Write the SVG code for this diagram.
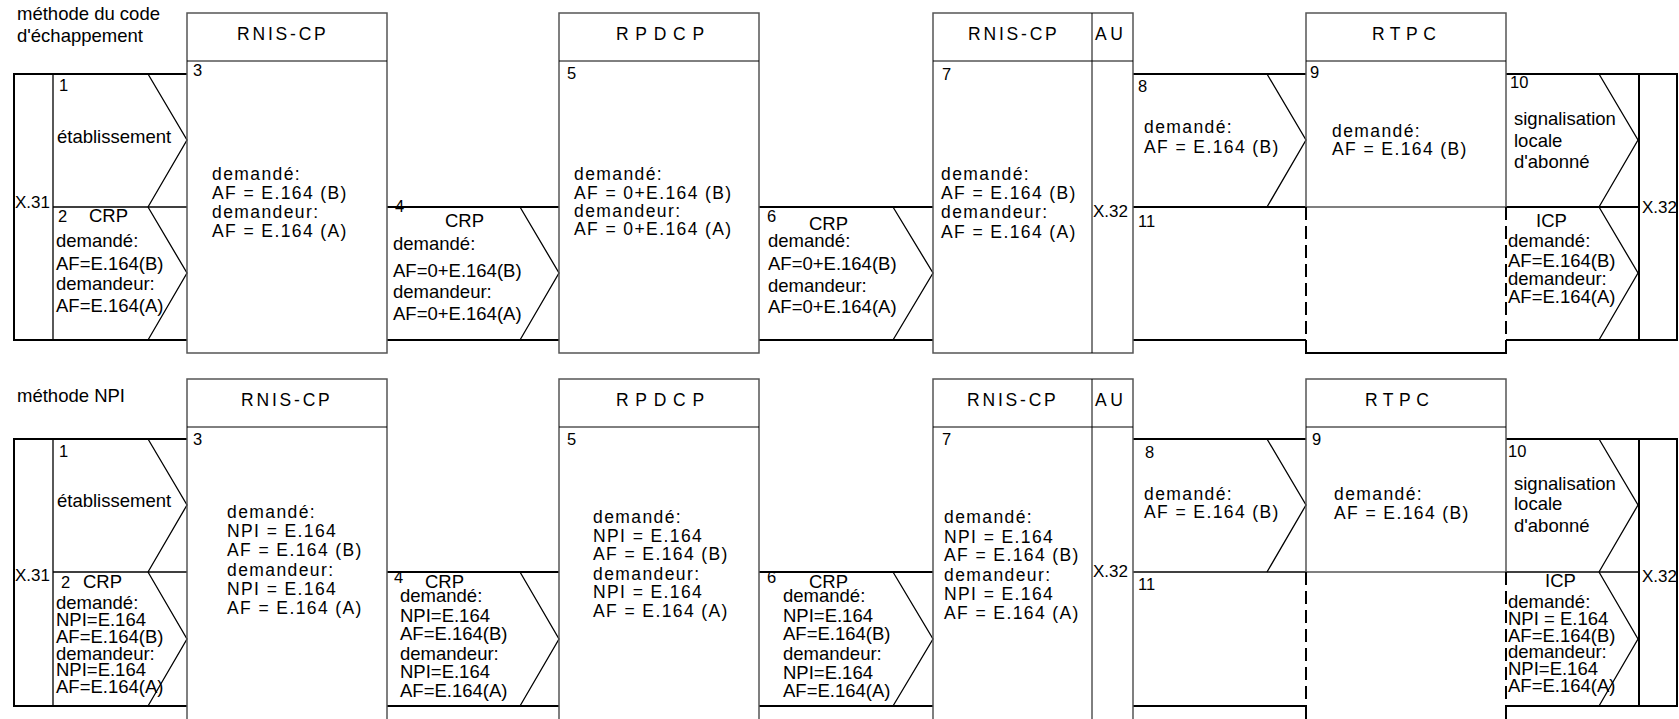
<svg xmlns="http://www.w3.org/2000/svg" width="1679" height="719" viewBox="0 0 1679 719">
<style>
.box{fill:none;stroke:#555;stroke-width:1.5}
.div{stroke:#000;stroke-width:1;fill:none}
.thick{stroke:#000;stroke-width:2;fill:none}
.thin{stroke:#000;stroke-width:1.3;fill:none}
.dash{stroke:#000;stroke-width:2;stroke-dasharray:13 6;fill:none}
text{font-family:"Liberation Sans",Arial,sans-serif;font-size:18.5px;fill:#000}
.n{font-size:16.5px}
.x{font-size:17px}
.b{font-size:17.5px;letter-spacing:1.4px}
.h{font-size:17.5px}
</style>
<rect width="1679" height="719" fill="#fff"/>

<!-- ===== Section 1 : méthode du code d'échappement ===== -->
<g id="section1">
  <g id="title1">
    <text x="17" y="20">méthode du code</text>
    <text x="17" y="42">d'échappement</text>
  </g>
  <g id="connectors1">
    <path class="thick" d="M187 74H14V340H187"/>
    <path class="thin" d="M53 74V340M53 207H187"/>
    <path class="thick" d="M387 207H559M387 340H559"/>
    <path class="thick" d="M759 207H933M759 340H933"/>
    <path class="thick" d="M1133 74H1306M1133 207H1306M1133 340H1306"/>
    <path class="thick" d="M1506 74H1677V340H1506M1506 207H1639M1639 74V340"/>
  </g>
  <g id="x31-1"><text class="x" x="15" y="208">X.31</text></g>
  <g id="msg1-1">
    <path class="thin" d="M148 74L187 140L148 207"/>
    <text class="n" x="59" y="91">1</text>
    <text x="57" y="143">établissement</text>
  </g>
  <g id="msg2-1">
    <path class="thin" d="M148 207L187 273L148 340"/>
    <text class="n" x="58" y="222">2</text>
    <text x="89" y="222">CRP</text>
    <text x="56" y="247">demandé:</text>
    <text x="56" y="270">AF=E.164(B)</text>
    <text x="56" y="290">demandeur:</text>
    <text x="56" y="312">AF=E.164(A)</text>
  </g>
  <g id="rnis-a1">
    <rect class="box" x="187" y="13" width="200" height="340"/>
    <line class="div" x1="187" y1="61" x2="387" y2="61"/>
    <text class="h" x="237" y="40" letter-spacing="2.8">RNIS-CP</text>
    <text class="n" x="193" y="76">3</text>
    <text class="b" x="212" y="180">demandé:</text>
    <text class="b" x="212" y="199">AF = E.164 (B)</text>
    <text class="b" x="212" y="218">demandeur:</text>
    <text class="b" x="212" y="237">AF = E.164 (A)</text>
  </g>
  <g id="msg4-1">
    <path class="thin" d="M520 207L559 273L520 340"/>
    <text class="n" x="395" y="212">4</text>
    <text x="445" y="227">CRP</text>
    <text x="393" y="250">demandé:</text>
    <text x="393" y="277">AF=0+E.164(B)</text>
    <text x="393" y="298">demandeur:</text>
    <text x="393" y="320">AF=0+E.164(A)</text>
  </g>
  <g id="rpdcp1">
    <rect class="box" x="559" y="13" width="200" height="340"/>
    <line class="div" x1="559" y1="61" x2="759" y2="61"/>
    <text class="h" x="616" y="40" letter-spacing="6.7">RPDCP</text>
    <text class="n" x="567" y="79">5</text>
    <text class="b" x="574" y="180">demandé:</text>
    <text class="b" x="574" y="199">AF = 0+E.164 (B)</text>
    <text class="b" x="574" y="217">demandeur:</text>
    <text class="b" x="574" y="235">AF = 0+E.164 (A)</text>
  </g>
  <g id="msg6-1">
    <path class="thin" d="M893 207L933 273L893 340"/>
    <text class="n" x="767" y="222">6</text>
    <text x="809" y="230">CRP</text>
    <text x="768" y="247">demandé:</text>
    <text x="768" y="270">AF=0+E.164(B)</text>
    <text x="768" y="292">demandeur:</text>
    <text x="768" y="313">AF=0+E.164(A)</text>
  </g>
  <g id="rnis-b1">
    <rect class="box" x="933" y="13" width="200" height="340"/>
    <line class="div" x1="933" y1="61" x2="1133" y2="61"/>
    <line class="div" x1="1092" y1="13" x2="1092" y2="353"/>
    <text class="h" x="968" y="40" letter-spacing="2.8">RNIS-CP</text>
    <text class="h" x="1095" y="40" letter-spacing="3.5">AU</text>
    <text class="n" x="942" y="80">7</text>
    <text class="b" x="941" y="180">demandé:</text>
    <text class="b" x="941" y="199">AF = E.164 (B)</text>
    <text class="b" x="941" y="218">demandeur:</text>
    <text class="b" x="941" y="238">AF = E.164 (A)</text>
    <text class="x" x="1093" y="217">X.32</text>
  </g>
  <g id="msg8-1">
    <path class="thin" d="M1267 74L1306 140L1267 207"/>
    <text class="n" x="1138" y="92">8</text>
    <text class="b" x="1144" y="133">demandé:</text>
    <text class="b" x="1144" y="153">AF = E.164 (B)</text>
  </g>
  <g id="msg11-1"><text class="n" x="1138" y="227">11</text></g>
  <g id="rtpc1">
    <rect class="box" x="1306" y="13" width="200" height="194"/>
    <line class="div" x1="1306" y1="61" x2="1506" y2="61"/>
    <path class="dash" d="M1306 207V340M1506 207V340"/>
    <path class="thick" d="M1306 340V353H1506V340"/>
    <text class="h" x="1372" y="40" letter-spacing="5.5">RTPC</text>
    <text class="n" x="1310" y="78">9</text>
    <text class="b" x="1332" y="137">demandé:</text>
    <text class="b" x="1332" y="155">AF = E.164 (B)</text>
  </g>
  <g id="msg10-1">
    <path class="thin" d="M1599 74L1638 140L1599 207"/>
    <text class="n" x="1510" y="88">10</text>
    <text x="1514" y="125">signalisation</text>
    <text x="1514" y="147">locale</text>
    <text x="1514" y="168">d'abonné</text>
  </g>
  <g id="msgICP-1">
    <path class="thin" d="M1599 207L1638 273L1599 340"/>
    <text x="1536" y="227">ICP</text>
    <text x="1508" y="247">demandé:</text>
    <text x="1508" y="267">AF=E.164(B)</text>
    <text x="1508" y="285">demandeur:</text>
    <text x="1508" y="303">AF=E.164(A)</text>
  </g>
  <g id="x32r-1"><text class="x" x="1642" y="213">X.32</text></g>
</g>

<!-- ===== Section 2 : méthode NPI ===== -->
<g id="section2" transform="translate(0,365)">
  <g id="title2">
    <text x="17" y="37">méthode NPI</text>
  </g>
  <g id="connectors2">
    <path class="thick" d="M187 74H14V341H187"/>
    <path class="thin" d="M53 74V341M53 207H187"/>
    <path class="thick" d="M387 207H559M387 341H559"/>
    <path class="thick" d="M759 207H933M759 341H933"/>
    <path class="thick" d="M1133 74H1306M1133 341H1306"/>
    <path class="thin" d="M1133 207H1306"/>
    <path class="thick" d="M1506 74H1677V341H1506M1639 74V341"/>
    <path class="thin" d="M1506 207H1639"/>
  </g>
  <g id="x31-2"><text class="x" x="15" y="216">X.31</text></g>
  <g id="msg1-2">
    <path class="thin" d="M148 74L187 140L148 207"/>
    <text class="n" x="59" y="92">1</text>
    <text x="57" y="142">établissement</text>
  </g>
  <g id="msg2-2">
    <path class="thin" d="M148 207L187 274L148 341"/>
    <text class="n" x="61" y="223">2</text>
    <text x="83" y="223">CRP</text>
    <text x="56" y="244">demandé:</text>
    <text x="56" y="261">NPI=E.164</text>
    <text x="56" y="278">AF=E.164(B)</text>
    <text x="56" y="294.5">demandeur:</text>
    <text x="56" y="311">NPI=E.164</text>
    <text x="56" y="327.5">AF=E.164(A)</text>
  </g>
  <g id="rnis-a2">
    <rect class="box" x="187" y="14" width="200" height="345"/>
    <line class="div" x1="187" y1="62" x2="387" y2="62"/>
    <text class="h" x="241" y="40.5" letter-spacing="2.8">RNIS-CP</text>
    <text class="n" x="193" y="80">3</text>
    <text class="b" x="227" y="153">demandé:</text>
    <text class="b" x="227" y="172">NPI = E.164</text>
    <text class="b" x="227" y="191">AF = E.164 (B)</text>
    <text class="b" x="227" y="210.5">demandeur:</text>
    <text class="b" x="227" y="229.5">NPI = E.164</text>
    <text class="b" x="227" y="248.5">AF = E.164 (A)</text>
  </g>
  <g id="msg4-2">
    <path class="thin" d="M520 207L559 274L520 341"/>
    <text class="n" x="394" y="218">4</text>
    <text x="425" y="223">CRP</text>
    <text x="400" y="237">demandé:</text>
    <text x="400" y="257">NPI=E.164</text>
    <text x="400" y="275">AF=E.164(B)</text>
    <text x="400" y="295">demandeur:</text>
    <text x="400" y="313">NPI=E.164</text>
    <text x="400" y="332">AF=E.164(A)</text>
  </g>
  <g id="rpdcp2">
    <rect class="box" x="559" y="14" width="200" height="345"/>
    <line class="div" x1="559" y1="62" x2="759" y2="62"/>
    <text class="h" x="616" y="40.5" letter-spacing="6.7">RPDCP</text>
    <text class="n" x="567" y="80">5</text>
    <text class="b" x="593" y="158">demandé:</text>
    <text class="b" x="593" y="177">NPI = E.164</text>
    <text class="b" x="593" y="195">AF = E.164 (B)</text>
    <text class="b" x="593" y="215">demandeur:</text>
    <text class="b" x="593" y="233">NPI = E.164</text>
    <text class="b" x="593" y="252">AF = E.164 (A)</text>
  </g>
  <g id="msg6-2">
    <path class="thin" d="M893 207L933 274L893 341"/>
    <text class="n" x="767" y="218">6</text>
    <text x="809" y="223">CRP</text>
    <text x="783" y="237">demandé:</text>
    <text x="783" y="257">NPI=E.164</text>
    <text x="783" y="275">AF=E.164(B)</text>
    <text x="783" y="295">demandeur:</text>
    <text x="783" y="314">NPI=E.164</text>
    <text x="783" y="332">AF=E.164(A)</text>
  </g>
  <g id="rnis-b2">
    <rect class="box" x="933" y="14" width="200" height="345"/>
    <line class="div" x1="933" y1="62" x2="1133" y2="62"/>
    <line class="div" x1="1092" y1="14" x2="1092" y2="359"/>
    <text class="h" x="967" y="40.5" letter-spacing="2.8">RNIS-CP</text>
    <text class="h" x="1095" y="40.5" letter-spacing="3.5">AU</text>
    <text class="n" x="942" y="80">7</text>
    <text class="b" x="944" y="158">demandé:</text>
    <text class="b" x="944" y="178">NPI = E.164</text>
    <text class="b" x="944" y="196">AF = E.164 (B)</text>
    <text class="b" x="944" y="216">demandeur:</text>
    <text class="b" x="944" y="235">NPI = E.164</text>
    <text class="b" x="944" y="254">AF = E.164 (A)</text>
    <text class="x" x="1093" y="212">X.32</text>
  </g>
  <g id="msg8-2">
    <path class="thin" d="M1267 74L1306 140L1267 207"/>
    <text class="n" x="1145" y="93">8</text>
    <text class="b" x="1144" y="135">demandé:</text>
    <text class="b" x="1144" y="153">AF = E.164 (B)</text>
  </g>
  <g id="msg11-2"><text class="n" x="1138" y="225">11</text></g>
  <g id="rtpc2">
    <rect class="box" x="1306" y="14" width="200" height="193"/>
    <line class="div" x1="1306" y1="62" x2="1506" y2="62"/>
    <path class="dash" d="M1306 207V341M1506 207V341"/>
    <path class="thick" d="M1306 341V359M1506 341V359"/>
    <text class="h" x="1365" y="40.5" letter-spacing="5.5">RTPC</text>
    <text class="n" x="1312" y="80">9</text>
    <text class="b" x="1334" y="135">demandé:</text>
    <text class="b" x="1334" y="154">AF = E.164 (B)</text>
  </g>
  <g id="msg10-2">
    <path class="thin" d="M1599 74L1638 140L1599 207"/>
    <text class="n" x="1508" y="92">10</text>
    <text x="1514" y="125">signalisation</text>
    <text x="1514" y="145">locale</text>
    <text x="1514" y="167">d'abonné</text>
  </g>
  <g id="msgICP-2">
    <path class="thin" d="M1599 207L1638 274L1599 341"/>
    <text x="1545" y="222">ICP</text>
    <text x="1508" y="243">demandé:</text>
    <text x="1508" y="260">NPI = E.164</text>
    <text x="1508" y="277">AF=E.164(B)</text>
    <text x="1508" y="293">demandeur:</text>
    <text x="1508" y="310">NPI=E.164</text>
    <text x="1508" y="327">AF=E.164(A)</text>
  </g>
  <g id="x32r-2"><text class="x" x="1642" y="217">X.32</text></g>
</g>
</svg>
